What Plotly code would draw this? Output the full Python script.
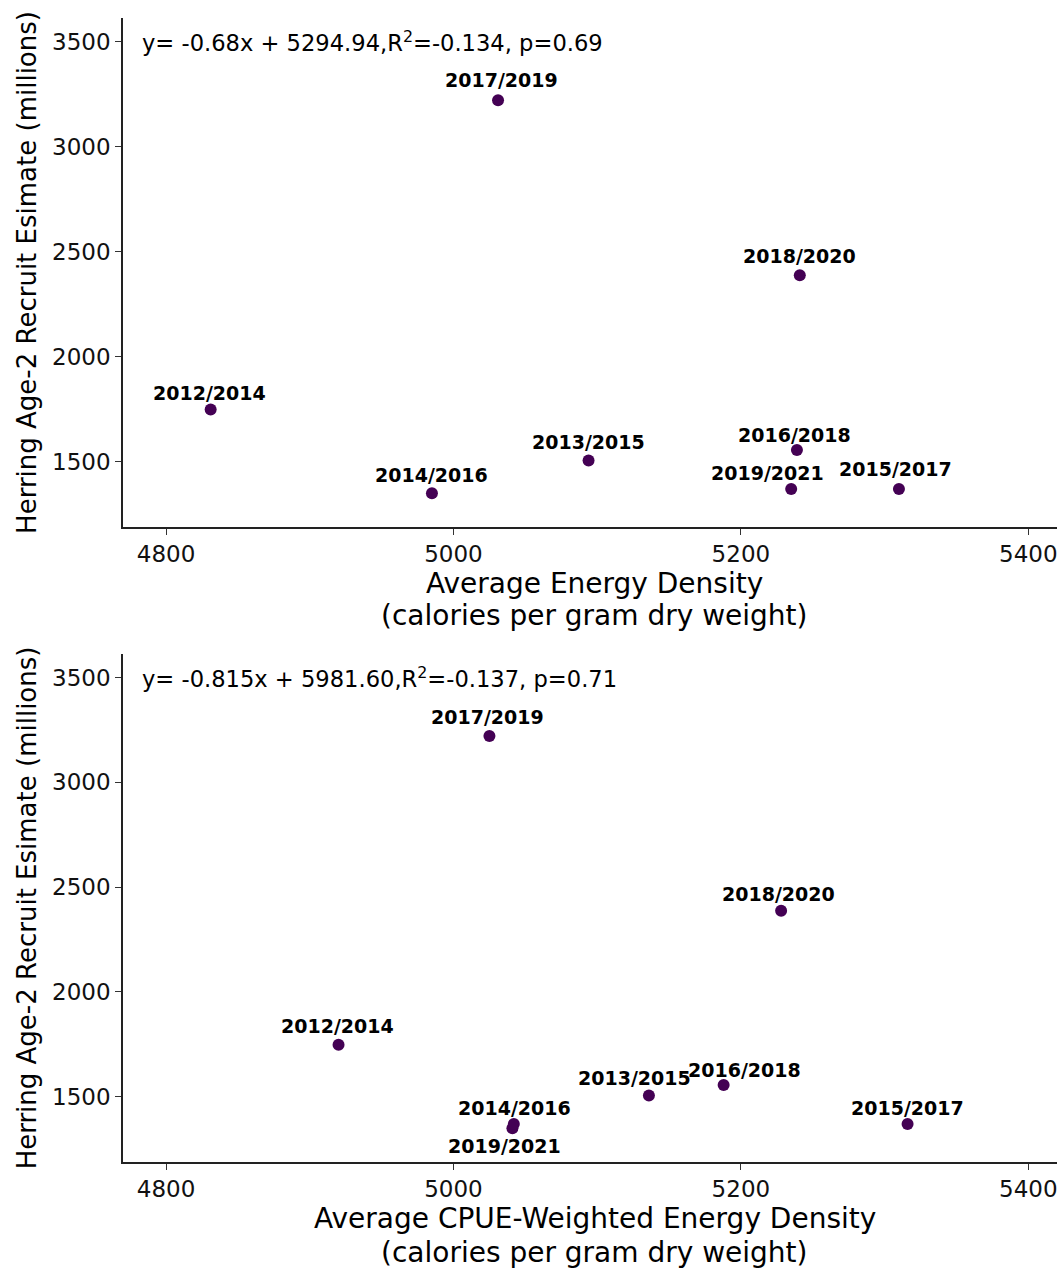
import plotly.graph_objects as go

# ---- data ----
years = ["2012/2014", "2013/2015", "2014/2016", "2015/2017",
         "2016/2018", "2017/2019", "2018/2020", "2019/2021"]
recruits = [1748, 1505, 1349, 1369, 1555, 3221, 2387, 1369]
energy_density = [4831, 5094, 4985, 5310, 5239, 5031, 5241, 5235]
cpue_energy_density = [4920, 5136, 5041, 5316, 5188, 5025, 5228, 5042]

eq_top = "y= -0.68x + 5294.94,R<sup>2</sup>=-0.134, p=0.69"
eq_bottom = "y= -0.815x + 5981.60,R<sup>2</sup>=-0.137, p=0.71"

xtitle_top = ["Average Energy Density", "(calories per gram dry weight)"]
xtitle_bottom = ["Average CPUE-Weighted Energy Density", "(calories per gram dry weight)"]
ytitle = "Herring Age-2 Recruit Esimate (millions)"

x_ticks = [4800, 5000, 5200, 5400]
y_ticks = [1500, 2000, 2500, 3000, 3500]

# label offsets in pixels (dx, dy) -- styling only
off_top = [(-1, 16), (0, 18), (0, 18), (-3, 20), (-2, 15), (3, 20), (0, 19), (-24, 16)]
off_bot = [(-1, 19), (-14, 18), (2, 20), (0, 16), (21, 15), (-2, 19), (-3, 17), (-9, -22)]

FONT = "DejaVu Sans, Liberation Sans, Arial, sans-serif"
PURPLE = "#440154"

fig = go.Figure()
fig.add_trace(go.Scatter(x=energy_density, y=recruits, mode="markers",
                         marker=dict(size=12, color=PURPLE), xaxis="x", yaxis="y",
                         showlegend=False, hoverinfo="skip"))
fig.add_trace(go.Scatter(x=cpue_energy_density, y=recruits, mode="markers",
                         marker=dict(size=12, color=PURPLE), xaxis="x2", yaxis="y2",
                         showlegend=False, hoverinfo="skip"))

annotations = []
for xs, offs, xr, yr in [(energy_density, off_top, "x", "y"),
                         (cpue_energy_density, off_bot, "x2", "y2")]:
    for lab, xv, yv, (dx, dy) in zip(years, xs, recruits, offs):
        annotations.append(dict(x=xv, y=yv, xref=xr, yref=yr, text="<b>" + lab + "</b>",
                                showarrow=False, xshift=dx, yshift=dy,
                                font=dict(family=FONT, size=19, color="black"),
                                xanchor="center", yanchor="middle"))

for eq, xr, yr in [(eq_top, "x domain", "y domain"), (eq_bottom, "x2 domain", "y2 domain")]:
    annotations.append(dict(x=0.018, y=0.953, xref=xr, yref=yr, text=eq,
                            showarrow=False, xanchor="left", yanchor="middle",
                            font=dict(family=FONT, size=22.6, color="black")))

# x-axis titles (two lines each, placed below each panel)
for lines, ypos in [(xtitle_top, [0.5061, 0.4781]), (xtitle_bottom, [-0.0498, -0.0795])]:
    for txt, yp in zip(lines, ypos):
        annotations.append(dict(x=0.505, y=yp, xref="paper", yref="paper", text=txt,
                                showarrow=False, xanchor="center", yanchor="middle",
                                font=dict(family=FONT, size=28, color="black")))

ax_common = dict(showline=True, linecolor="#222", linewidth=1.5, ticks="outside",
                 ticklen=6, tickwidth=1.2, tickcolor="#333", showgrid=False,
                 zeroline=False, ticklabeloverflow="allow",
                 tickfont=dict(family=FONT, size=23, color="#111"))

fig.update_layout(
    width=1057, height=1269,
    margin=dict(l=123, r=0, t=18, b=107),
    paper_bgcolor="white", plot_bgcolor="white",
    annotations=annotations,
    xaxis=dict(domain=[0, 1], anchor="y", range=[4770, 5420], tickvals=x_ticks,
               **ax_common),
    yaxis=dict(domain=[0.5551, 1], anchor="x", range=[1188, 3613], tickvals=y_ticks,
               title=dict(text=ytitle, font=dict(family=FONT, size=26, color="black"),
                          standoff=8),
               **ax_common),
    xaxis2=dict(domain=[0, 1], anchor="y2", range=[4770, 5420], tickvals=x_ticks,
                **ax_common),
    yaxis2=dict(domain=[0, 0.4441], anchor="x2", range=[1188, 3613], tickvals=y_ticks,
                title=dict(text=ytitle, font=dict(family=FONT, size=26, color="black"),
                           standoff=8),
                **ax_common),
)

fig.write_html("out.html")
